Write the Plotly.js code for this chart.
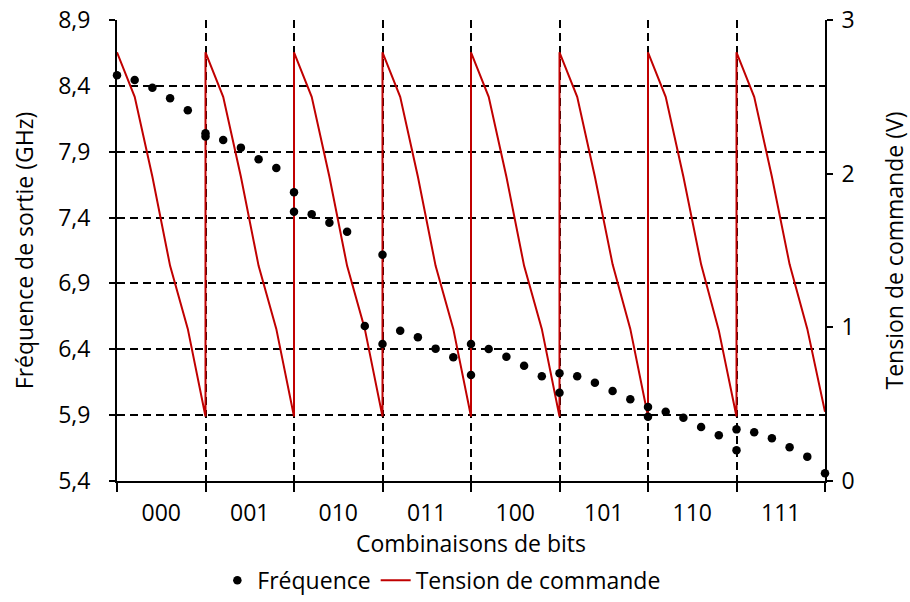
<!DOCTYPE html>
<html>
<head>
<meta charset="utf-8">
<script src="https://cdn.plot.ly/plotly-3.0.1.min.js"></script>
<style>html,body{margin:0;padding:0;background:#fff;}#chart{width:910px;height:602px;}</style>
</head>
<body>
<div id="chart"></div>
<script>
// Categories (bit combinations)
const groups = ['000', '001', '010', '011', '100', '101', '110', '111'];
// Sample steps inside each group (6 samples, last shared with next group's boundary)
const steps = [0, 1, 2, 3, 4, 5];

// Output frequency (GHz), per group
const freq000 = [8.48, 8.445, 8.386, 8.306, 8.214, 8.015];
const freq001 = [8.04, 7.989, 7.931, 7.842, 7.776, 7.445];
const freq010 = [7.592, 7.425, 7.361, 7.293, 6.577, 6.440];
const freq011 = [7.118, 6.541, 6.491, 6.405, 6.339, 6.205];
const freq100 = [6.440, 6.402, 6.344, 6.275, 6.195, 6.070];
const freq101 = [6.218, 6.195, 6.146, 6.083, 6.020, 5.888];
const freq110 = [5.962, 5.926, 5.881, 5.810, 5.747, 5.633];
const freq111 = [5.792, 5.770, 5.724, 5.656, 5.585, 5.458];

// Control voltage (V), per group
const volt000 = [2.79, 2.50, 1.98, 1.40, 0.99, 0.42];
const volt001 = [2.79, 2.50, 1.98, 1.40, 0.99, 0.42];
const volt010 = [2.79, 2.50, 1.98, 1.40, 0.99, 0.42];
const volt011 = [2.79, 2.50, 1.98, 1.40, 0.99, 0.42];
const volt100 = [2.79, 2.50, 1.98, 1.40, 0.99, 0.42];
const volt101 = [2.79, 2.50, 1.98, 1.41, 0.99, 0.42];
const volt110 = [2.79, 2.50, 1.98, 1.41, 0.98, 0.42];
const volt111 = [2.79, 2.50, 1.98, 1.41, 0.99, 0.45];

const freqByGroup = [freq000, freq001, freq010, freq011, freq100, freq101, freq110, freq111];
const voltByGroup = [volt000, volt001, volt010, volt011, volt100, volt101, volt110, volt111];

const nSteps = steps.length - 1;
const fx = [], fy = [], vx = [], vy = [];
groups.forEach((g, gi) => {
  steps.forEach((s, si) => {
    fx.push(gi * nSteps + s); fy.push(freqByGroup[gi][si]);
    vx.push(gi * nSteps + s); vy.push(voltByGroup[gi][si]);
  });
});
const centers = groups.map((g, gi) => gi * nSteps + nSteps / 2);
const bounds = groups.map((g, gi) => gi * nSteps).concat([groups.length * nSteps]);

const FONT = 'Open Sans, sans-serif';
const TICK = 23, TITLE = 23;

const traces = [
  {
    name: 'Fréquence', x: fx, y: fy, xaxis: 'x', yaxis: 'y2',
    type: 'scatter', mode: 'markers',
    marker: {color: '#000000', size: 8.5},
    cliponaxis: false
  },
  {
    name: 'Tension de commande', x: vx, y: vy, xaxis: 'x', yaxis: 'y',
    type: 'scatter', mode: 'lines',
    line: {color: '#C00000', width: 2},
    cliponaxis: false
  }
];

const layout = {
  width: 910, height: 602,
  margin: {l: 117, r: 85, t: 20, b: 121},
  paper_bgcolor: '#ffffff', plot_bgcolor: '#ffffff',
  separators: ', ',
  font: {family: FONT, size: TICK, color: '#000000'},
  showlegend: true,
  legend: {
    orientation: 'h', xref: 'container', yref: 'container',
    x: 0.485, xanchor: 'center', y: 0.036, yanchor: 'middle',
    font: {family: FONT, size: TITLE, color: '#000'},
    itemwidth: 30, tracegroupgap: 0, bgcolor: 'rgba(0,0,0,0)'
  },
  xaxis: {
    range: [0, groups.length * nSteps],
    tickmode: 'array', tickvals: centers, ticktext: groups,
    ticks: '', showgrid: false, zeroline: false,
    showline: true, linecolor: '#000', linewidth: 2,
    tickfont: {family: FONT, size: TICK},
    ticklabelstandoff: 10,
    minor: {
      tickmode: 'array', tickvals: bounds,
      ticks: 'outside', ticklen: 9, tickwidth: 2, tickcolor: '#000',
      showgrid: true, gridcolor: '#000', gridwidth: 2, griddash: '8px,5px'
    },
    title: {text: 'Combinaisons de bits', font: {family: FONT, size: TITLE}, standoff: 12},
    fixedrange: true
  },
  yaxis: {
    side: 'right', range: [0, 3], tickvals: [0, 1, 2, 3],
    ticks: 'outside', ticklen: 6, tickwidth: 2, tickcolor: '#000',
    showgrid: false, zeroline: false,
    showline: true, linecolor: '#000', linewidth: 2,
    tickfont: {family: FONT, size: TICK},
    ticklabelstandoff: 4,
    title: {text: 'Tension de commande (V)', font: {family: FONT, size: TITLE}, standoff: 36},
    fixedrange: true
  },
  yaxis2: {
    overlaying: 'y', side: 'left', range: [5.4, 8.9],
    tickvals: [5.4, 5.9, 6.4, 6.9, 7.4, 7.9, 8.4, 8.9],
    tickformat: '.1f',
    ticks: 'outside', ticklen: 6, tickwidth: 2, tickcolor: '#000',
    showgrid: true, gridcolor: '#000', gridwidth: 2, griddash: '8px,5px',
    zeroline: false,
    showline: true, linecolor: '#000', linewidth: 2,
    tickfont: {family: FONT, size: TICK},
    ticklabelstandoff: 14,
    title: {text: 'Fréquence de sortie (GHz)', font: {family: FONT, size: TITLE}, standoff: 18},
    fixedrange: true
  }
};

Plotly.newPlot('chart', traces, layout, {displayModeBar: false, staticPlot: true});
</script>
</body>
</html>
